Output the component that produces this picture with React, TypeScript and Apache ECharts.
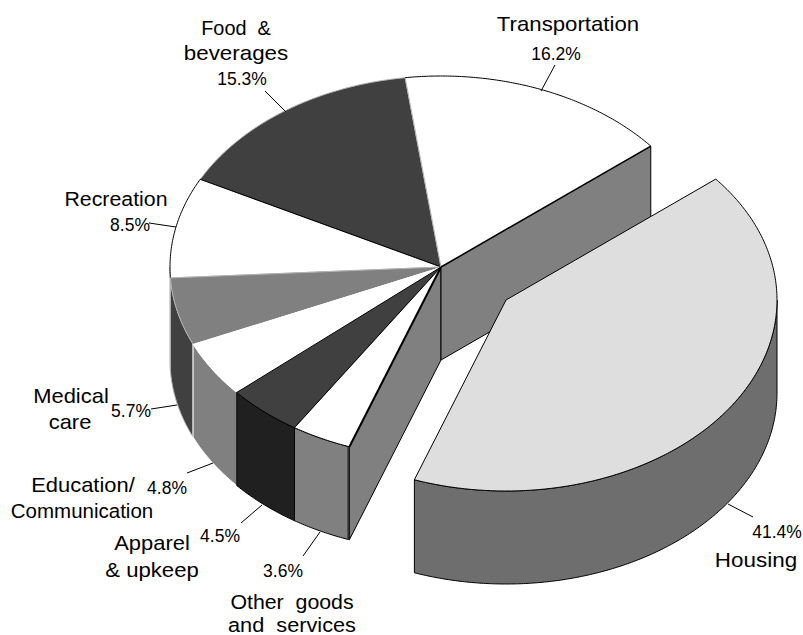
import React, { useEffect, useRef } from "react";
import * as echarts from "echarts";

const categories = ["Transportation", "Housing", "Other goods and services", "Apparel & upkeep", "Education/ Communication", "Medical care", "Recreation", "Food & beverages"];
const shares = [16.2, 41.4, 3.6, 4.5, 4.8, 5.7, 8.5, 15.3];
const shareLabels = ["16.2%", "41.4%", "3.6%", "4.5%", "4.8%", "5.7%", "8.5%", "15.3%"];

const CX = 441, CY = 267, RX = 271, RY = 191, DEPTH = 93, START = 97.6;
const EXPLODE = [0, 1, 0, 0, 0, 0, 0, 0];
const EX = 65, EY = 33;
const LAYER = [6, 7, 5, 4, 3, 2, 1, 0];
const TOP = ["#ffffff", "#dedede", "#ffffff", "#404040", "#ffffff", "#808080", "#ffffff", "#404040"];
const WALL = ["#808080", "#6e6e6e", "#808080", "#202020", "#808080", "#404040", "#808080", "#404040"];
const GREY = "#b4b4b4";
// edge colours of each top face: radius at its start, arc, radius at its end
const RADIUS_FROM = [GREY, "#000", "#000", "#000", null, null, GREY, "#000"];
const ARC_EDGE = ["#000", "#000", "#000", "#000", null, GREY, "#000", GREY];
const RADIUS_TO = ["#000", "#000", "#000", "#000", null, GREY, "#000", GREY];
const WALL_EDGE = ["#000", "#000", "#000", "#000", "#ffffff", GREY, GREY, "#404040"];

const NAME_SIZE = 20.5, SHARE_SIZE = 17.5;
// x, y, text, horizontal stretch of the lettering
const NAME_LINES: [number, number, string, number][] = [
  [568, 24, "Transportation", 1.084],
  [756, 560, "Housing", 1.095],
  [292, 602, "Other  goods", 1.04],
  [292, 625, "and  services", 1.06],
  [152, 543, "Apparel", 1.07],
  [152, 570, "& upkeep", 1.08],
  [83, 485, "Education/", 1.07],
  [82, 510, "Communication", 1],
  [71, 396, "Medical", 1.07],
  [70, 422, "care", 1.07],
  [116, 199, "Recreation", 1.04],
  [236, 28, "Food  &", 0.97],
  [236, 53, "beverages", 1.09],
];
const SHARE_PLACES: [number, number][] = [[556, 54], [777, 532], [283, 571], [220, 536], [167, 488], [131, 411], [130, 225], [242, 79]];
const LEADERS: number[][] = [
  [541, 91, 555, 65], [728, 504, 753, 517], [320, 532, 303, 556], [262, 505, 241, 523],
  [213, 463, 187, 473], [177, 405, 151, 409], [176, 227, 149, 223], [286, 112, 265, 91],
];

function ell(cx: number, cy: number, deg: number): number[] {
  const t = (deg * Math.PI) / 180;
  return [cx + RX * Math.cos(t), cy - RY * Math.sin(t)];
}
function arc(cx: number, cy: number, from: number, to: number): number[][] {
  const pts: number[][] = [];
  const n = Math.max(2, Math.ceil(Math.abs(from - to) * 2));
  for (let i = 0; i <= n; i++) pts.push(ell(cx, cy, from + ((to - from) * i) / n));
  return pts;
}

function renderItem(params: any, api: any) {
  const i = params.dataIndex;
  const total = shares.reduce((a, b) => a + b, 0);
  const before = shares.slice(0, i).reduce((a, b) => a + b, 0);
  const from = START - (before / total) * 360;
  const to = from - (api.value(0) / total) * 360;
  const cx = CX + EXPLODE[i] * EX;
  const cy = CY + EXPLODE[i] * EY;
  const z2 = LAYER[i] * 10;
  const children: any[] = [];
  const poly = (points: number[][], fill: string, stroke: string | null, z: number) =>
    children.push({ type: "polygon", z2: z, shape: { points }, style: { fill, stroke: stroke || "none", lineWidth: stroke ? 1 : 0, lineJoin: "round" } });
  const edge = (points: number[][], stroke: string | null, z: number, lineWidth = 1) => {
    if (stroke) children.push({ type: "polyline", z2: z, shape: { points }, style: { fill: "none", stroke, lineWidth, lineJoin: "round" } });
  };

  // cut faces towards the viewer
  if (!EXPLODE[i]) {
    const faces = i === 0 ? [to] : i === 2 ? [from] : [];
    for (const a of faces) {
      const p = ell(cx, cy, a);
      poly([[cx, cy], p, [p[0], p[1] + DEPTH], [cx, cy + DEPTH]], WALL[i], "#000", z2);
    }
  }
  // outer wall: the part of the arc on the front half of the ellipse
  const hi = Math.min(from, 0);
  const lo = Math.max(to, -180);
  if (hi > lo) {
    const a = arc(cx, cy, hi, lo);
    const b = a.map((p) => [p[0], p[1] + DEPTH]).reverse();
    poly(a.concat(b), WALL[i], WALL_EDGE[i], z2 + 1);
  }
  // top face and its edges
  const rim = arc(cx, cy, from, to);
  poly([[cx, cy]].concat(rim), TOP[i], null, z2 + 2);
  edge([[cx, cy], rim[0]], RADIUS_FROM[i], z2 + 3, i === 2 ? 2 : 1);
  edge(rim, ARC_EDGE[i], z2 + 3);
  edge([[cx, cy], rim[rim.length - 1]], RADIUS_TO[i], z2 + 3, i === 0 ? 1.5 : 1);
  if (i === 2) {
    const p = rim[0];
    children.push({ type: "line", z2: z2 + 4, shape: { x1: p[0] - 1, y1: p[1], x2: p[0] - 1, y2: p[1] + DEPTH }, style: { stroke: "#333", lineWidth: 2 } });
  }
  return { type: "group", children };
}

export default function App() {
  const ref = useRef<HTMLDivElement>(null);
  useEffect(() => {
    const chart = echarts.init(ref.current!, null, { renderer: "svg" });
    const graphic: any[] = [];
    LEADERS.forEach((l) =>
      graphic.push({ type: "line", z: 5, shape: { x1: l[0], y1: l[1], x2: l[2], y2: l[3] }, style: { stroke: "#000", lineWidth: 1 } })
    );
    NAME_LINES.forEach(([x, y, s, stretch]) =>
      graphic.push({ type: "text", z: 5, x, y, scaleX: stretch, style: { text: s, fill: "#000", fontFamily: "Liberation Sans", fontSize: NAME_SIZE, align: "center", verticalAlign: "middle" } })
    );
    shareLabels.forEach((s, k) =>
      graphic.push({ type: "text", z: 5, x: SHARE_PLACES[k][0], y: SHARE_PLACES[k][1], style: { text: s, fill: "#000", fontFamily: "Liberation Sans", fontSize: SHARE_SIZE, align: "center", verticalAlign: "middle" } })
    );
    chart.setOption({
      animation: false,
      backgroundColor: "#ffffff",
      graphic,
      series: [
        {
          type: "custom",
          coordinateSystem: "none",
          silent: true,
          renderItem,
          data: shares.map((v, i) => ({ name: categories[i], value: [v] })),
        },
      ],
    });
    return () => chart.dispose();
  }, []);
  return <div ref={ref} style={{ position: "fixed", left: 0, top: 0, width: 803, height: 635 }} />;
}
